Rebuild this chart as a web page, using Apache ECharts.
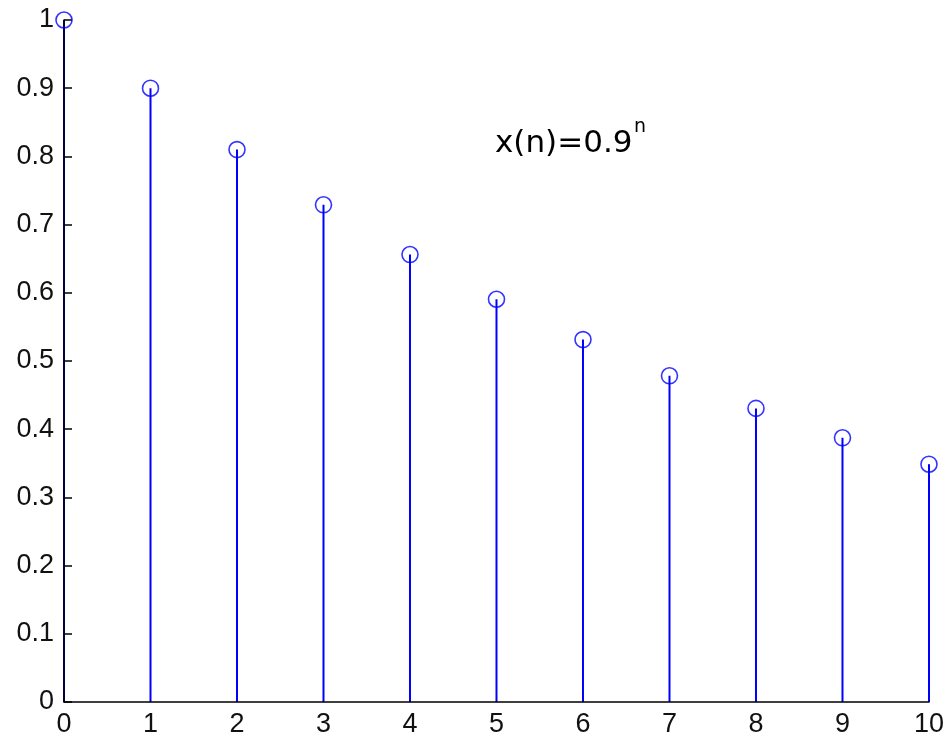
<!DOCTYPE html>
<html>
<head>
<meta charset="utf-8">
<script src="https://cdn.jsdelivr.net/npm/echarts@6/dist/echarts.min.js"></script>
<style>
html,body{margin:0;padding:0;background:#fff;}
#chart{width:947px;height:738px;}
</style>
</head>
<body>
<div id="chart"></div>
<script>
var nValues = [0, 1, 2, 3, 4, 5, 6, 7, 8, 9, 10];
var xValues = [1.0, 0.9, 0.81, 0.729, 0.6561, 0.5905, 0.5314, 0.4783, 0.4305, 0.3874, 0.3487];
var titleMain = 'x(n)=0.9';
var titleSup = 'n';

var pts = nValues.map(function (n, i) { return [n, xValues[i]]; });
var chart = echarts.init(document.getElementById('chart'), null, {renderer: 'canvas'});
var labelFont = {fontFamily: 'Liberation Sans', fontSize: 27, color: '#111'};
chart.setOption({
  animation: false,
  backgroundColor: '#fff',
  grid: {left: 64, right: 15, top: 20, bottom: 34, containLabel: false},
  xAxis: {
    type: 'value', min: 0, max: 10, interval: 1, z: 5,
    axisLine: {show: true, onZero: false, lineStyle: {color: '#000', width: 1.5}},
    axisTick: {show: false},
    axisLabel: Object.assign({margin: 9}, labelFont),
    splitLine: {show: false}
  },
  yAxis: {
    type: 'value', min: 0, max: 1, interval: 0.1, z: 5,
    axisLine: {show: true, lineStyle: {color: '#000', width: 1.5}},
    axisTick: {show: true, inside: true, length: 8, lineStyle: {color: '#000', width: 1.5}},
    axisLabel: Object.assign({margin: 10}, labelFont),
    splitLine: {show: false}
  },
  graphic: [
    {type: 'text', left: 495, top: 128, style: {text: titleMain, fontFamily: 'DejaVu Sans', fontSize: 31, fill: '#000'}},
    {type: 'text', left: 634, top: 118, style: {text: titleSup, fontFamily: 'DejaVu Sans', fontSize: 19, fill: '#000'}}
  ],
  series: [
    {
      type: 'bar', data: pts, barWidth: 2,
      itemStyle: {color: '#0000ff'}, silent: true, z: 2
    },
    {
      type: 'scatter', data: pts, symbol: 'circle', symbolSize: 16,
      itemStyle: {color: 'rgba(0,0,0,0)', borderColor: '#0000ff', borderWidth: 1.6},
      silent: true, z: 6
    }
  ]
});
</script>
</body>
</html>
